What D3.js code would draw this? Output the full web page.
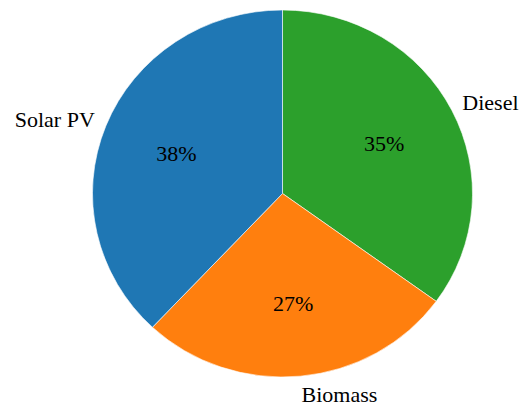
<!DOCTYPE html>
<html>
<head>
<meta charset="utf-8">
<script src="https://cdn.jsdelivr.net/npm/d3@7"></script>
<style>
  html, body { margin: 0; padding: 0; background: #fff; }
  svg { display: block; }
  svg text { font-family: "Liberation Serif", "Tinos", "DejaVu Serif", serif; font-size: 22px; fill: #000; }
</style>
</head>
<body>
<svg id="chart" width="527" height="409"></svg>
<script>
// Energy source shares (percent), clockwise from 12 o'clock
const categories = ["Diesel", "Biomass", "Solar PV"];
const shares = [35, 27, 38];
const colors = ["#2ca02c", "#ff7f0e", "#1f77b4"];

const width = 527, height = 409;
const cx = 282.5, cy = 193.5;
const ry = 183.5, rx = 190;

const svg = d3.select("#chart");

const pie = d3.pie().sort(null).value(d => d.value).startAngle(0).endAngle(2 * Math.PI);
const data = pie(categories.map((c, i) => ({ name: c, value: shares[i], color: colors[i] })));

const arc = d3.arc().innerRadius(0).outerRadius(ry);

// Pie drawn as a circle then stretched slightly horizontally
const g = svg.append("g")
  .attr("transform", `translate(${cx},${cy}) scale(${rx / ry},1)`);

g.selectAll("path")
  .data(data)
  .join("path")
  .attr("d", arc)
  .attr("fill", d => d.data.color)
  .attr("stroke", "#ffffff")
  .attr("stroke-width", 0.6)
  .attr("vector-effect", "non-scaling-stroke");

function mid(d) { return (d.startAngle + d.endAngle) / 2; }

// Percentage labels inside the slices
svg.append("g").selectAll("text")
  .data(data)
  .join("text")
  .attr("x", d => cx + 0.6 * rx * Math.sin(mid(d)))
  .attr("y", d => cy - 0.6 * ry * Math.cos(mid(d)))
  .attr("dy", "0.35em")
  .attr("text-anchor", "middle")
  .text(d => d.data.value + "%");

// Category labels outside the pie
svg.append("g").selectAll("text")
  .data(data)
  .join("text")
  .attr("x", d => cx + 1.1 * ry * Math.sin(mid(d)))
  .attr("y", d => cy - 1.1 * ry * Math.cos(mid(d)))
  .attr("dy", "0.35em")
  .attr("text-anchor", d => Math.sin(mid(d)) >= 0 ? "start" : "end")
  .text(d => d.data.name);
</script>
</body>
</html>
